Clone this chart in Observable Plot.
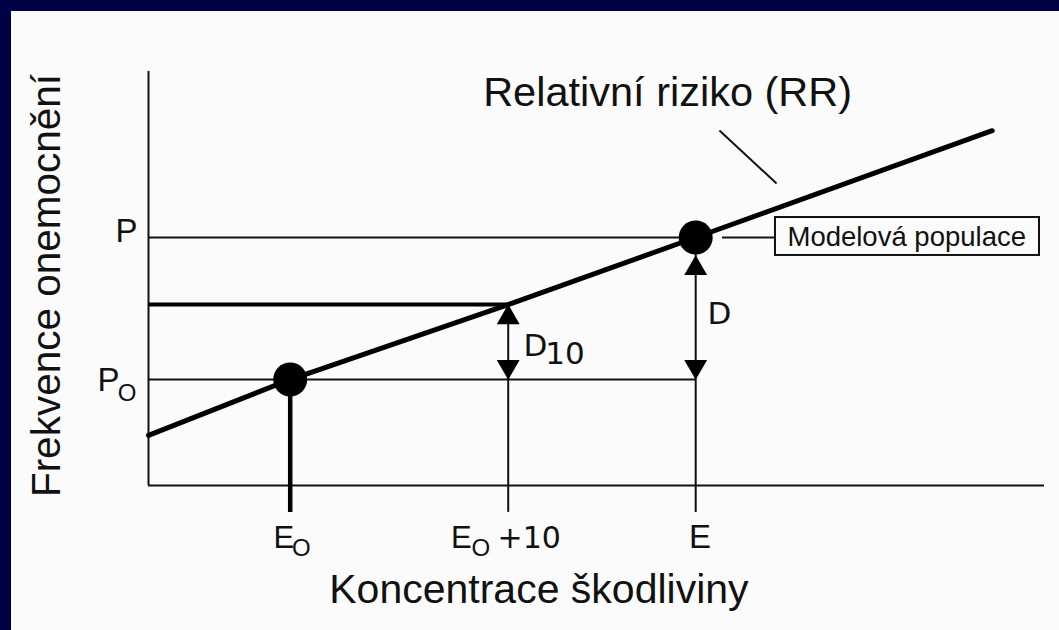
<!DOCTYPE html>
<html><head><meta charset="utf-8">
<script src="https://cdn.jsdelivr.net/npm/d3@7"></script>
<script src="https://cdn.jsdelivr.net/npm/@observablehq/plot@0.6"></script>
<style>
html,body{margin:0;padding:0;background:#000046;width:1059px;height:630px;overflow:hidden}
#panel{position:absolute;left:11px;top:11px;width:1048px;height:619px;background:#fbfbfb}
</style></head><body><div id="panel"></div>
<script>
// ---- Data (schematic units: x = concentration, y = disease frequency) ----
const xTickNames = ["E0", "E0 +10", "E"];
const xTickValues = [6.5, 16.5, 25.1];          // E0, E0+10, E
const yLevelNames = ["P0", "P10", "P"];
const yLevelValues = [25.6, 43.7, 59.9];        // P0, P(E0+10), P
const rrX = [0, 6.5, 16.5, 25.1, 38.7];         // relative-risk line
const rrY = [12.1, 25.6, 43.7, 59.9, 85.7];
const xMax = 41.1, yMax = 100, tickEnd = -6.5;

const [E0, E10, E] = xTickValues;
const [P0, P10, P] = yLevelValues;
const rr = rrX.map((x, i) => ({x, y: rrY[i]}));

const SANS = "'Liberation Sans', Arial, sans-serif";
const DJV = "'DejaVu Sans', sans-serif";
const INK = "#111";

function T(t, x, y, o = {}) {
  return Plot.text([{t, x, y}], {x: "x", y: "y", text: "t", fill: INK,
    fontFamily: o.ff || SANS, fontSize: o.fs || 33, textAnchor: o.anchor || "start",
    lineAnchor: "bottom", rotate: o.rotate || 0});
}

const chart = Plot.plot({
  width: 1048, height: 619,
  x: {domain: [0, xMax], range: [137, 1033], axis: null},
  y: {domain: [0, yMax], range: [474, 60], axis: null},
  style: {background: "transparent", overflow: "visible"},
  marks: [
    // axes
    Plot.ruleY([0], {x1: 0, x2: xMax, stroke: INK, strokeWidth: 2}),
    Plot.ruleX([0], {y1: 0, y2: yMax, stroke: INK, strokeWidth: 2}),
    // ticks / verticals
    Plot.ruleX([E10], {y1: tickEnd, y2: P10, stroke: INK, strokeWidth: 2}),
    Plot.ruleX([E], {y1: tickEnd, y2: P, stroke: INK, strokeWidth: 2}),
    Plot.ruleX([E0], {y1: tickEnd, y2: P0, stroke: "#000", strokeWidth: 4.5}),
    // horizontal levels
    Plot.ruleY([P], {x1: 0, x2: E, stroke: INK, strokeWidth: 2}),
    Plot.ruleY([P0], {x1: 0, x2: E, stroke: INK, strokeWidth: 2}),
    Plot.ruleY([P10], {x1: 0, x2: E10, stroke: "#000", strokeWidth: 4}),
    // relative risk line
    Plot.line(rr, {x: "x", y: "y", stroke: "#000", strokeWidth: 5, curve: "linear"}),
    // arrow heads
    Plot.dot([{x: E10, y: P10}], {x: "x", y: "y", symbol: "triangle", r: 8.5, fill: "#000", stroke: "none", dy: 13}),
    Plot.dot([{x: E10, y: P0}], {x: "x", y: "y", symbol: "triangle", r: 8.5, fill: "#000", stroke: "none", rotate: 180, dy: -13}),
    Plot.dot([{x: E, y: P}], {x: "x", y: "y", symbol: "triangle", r: 8.5, fill: "#000", stroke: "none", dy: 31}),
    Plot.dot([{x: E, y: P0}], {x: "x", y: "y", symbol: "triangle", r: 8.5, fill: "#000", stroke: "none", rotate: 180, dy: -13}),
    // points
    Plot.dot([{x: E0, y: P0}, {x: E, y: P}], {x: "x", y: "y", r: 17, fill: "#000", stroke: "none"}),
    // model population callout
    Plot.ruleY([P], {x1: 26.33, x2: 28.76, stroke: INK, strokeWidth: 2}),
    Plot.rect([{}], {x1: 28.76, x2: 40.87, y1: 55.56, y2: 64.73, fill: "none", stroke: INK, strokeWidth: 2}),
    T("Modelová populace", 29.31, 57.97, {fs: 27.5}),
    // RR label and leader
    Plot.link([{}], {x1: 26.19, y1: 85.75, x2: 28.81, y2: 72.95, stroke: INK, strokeWidth: 2}),
    T("Relativní riziko (RR)", 15.35, 91.55, {fs: 41.5}),
    // y level labels
    T("P", -0.5, 58.70, {anchor: "end"}),
    T("P", -1.33, 22.71, {anchor: "end"}),
    T("O", -0.55, 20.53, {anchor: "end", fs: 24}),
    // x tick labels
    T("E", 5.73, -15.0, {fs: 31}),
    T("O", 6.58, -16.91, {fs: 24}),
    T("E", 13.88, -15.0, {fs: 31}),
    T("O", 14.82, -16.91, {fs: 24}),
    T("+10", 16.01, -15.0, {ff: DJV, fs: 30}),
    T("E", 24.79, -15.0, {fs: 33}),
    // D labels
    T("D", 25.64, 38.89, {ff: DJV, fs: 31}),
    T("D", 17.20, 31.40, {ff: DJV, fs: 31}),
    T("10", 18.20, 29.23, {ff: DJV, fs: 31}),
    // axis titles
    T("Frekvence onemocnění", -4.08, 48.31, {fs: 40.5, anchor: "middle", rotate: -90}),
    T("Koncentrace škodliviny", 17.91, -28.50, {fs: 41, anchor: "middle"})
  ]
});
document.getElementById("panel").appendChild(chart);
</script></body></html>
